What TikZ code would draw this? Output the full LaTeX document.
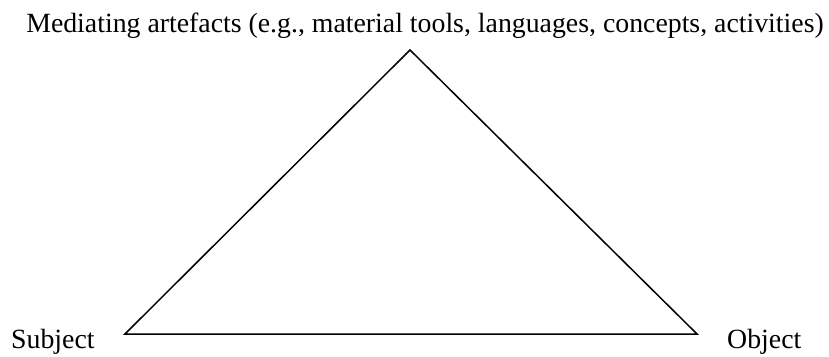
\documentclass[tikz,border=0pt]{standalone}
\usepackage{fontspec}
\setmainfont{Liberation Serif}
\begin{document}
\begin{tikzpicture}[x=1pt, y=1pt, every node/.style={inner sep=0pt, anchor=base, font=\fontsize{27.8}{32}\selectfont}]
\useasboundingbox (0,0) rectangle (829,356);
% Hoekpunten
\coordinate (top) at (410,306);
\coordinate (left) at (125,22);
\coordinate (right) at (697,22);
% Driehoek
\draw[line width=1.5pt, line join=miter] (left) -- (top) -- (right) -- cycle;
% Labels
\node (mediating) at (425,323) {Mediating artefacts (e.g., material tools, languages, concepts, activities)};
\node[anchor=base west] (subject) at (11,8) {Subject};
\node[anchor=base west] (object) at (727,8) {Object};
\end{tikzpicture}
\end{document}
